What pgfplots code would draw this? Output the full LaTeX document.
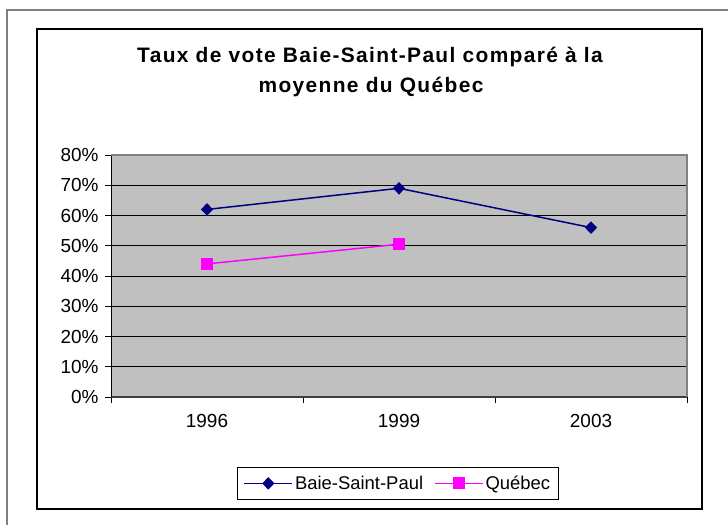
\documentclass[border=0pt]{standalone}
\usepackage{fontspec}
\setmainfont{Liberation Sans}
\newfontfamily\titlefont[LetterSpace=6.5]{Liberation Sans}
\usepackage{pgfplots}
\pgfplotsset{compat=1.18}
\definecolor{bsp}{HTML}{000080}
\definecolor{qc}{HTML}{FF00FF}
\definecolor{plotgray}{HTML}{C0C0C0}
\definecolor{bordergray}{HTML}{808080}
\begin{document}
\begin{tikzpicture}[x=1bp,y=1bp]
\useasboundingbox (0,0) rectangle (728,525);
\draw[bordergray, line width=1.5bp] (7,0) -- (7,515) -- (728,515);
\draw[black, line width=1.8bp] (37,496) rectangle (702,16);
\node[font=\titlefont\bfseries\fontsize{21}{24}\selectfont, anchor=base, inner sep=0pt] at (370,462) {Taux de vote Baie-Saint-Paul comparé à la};
\node[font=\titlefont\bfseries\fontsize{21}{24}\selectfont, anchor=base, inner sep=0pt] at (371,432) {moyenne du Québec};
\begin{axis}[
  at={(111bp,128bp)}, anchor=south west,
  width=576bp, height=242bp, scale only axis,
  xmin=-0.5, xmax=2.5, ymin=0, ymax=80,
  axis background/.style={fill=plotgray},
  axis x line*=bottom, axis y line*=left,
  x axis line style={-, draw=black!75, line width=2bp},
  y axis line style={-, draw=black, line width=1bp},
  xtick={0,1,2}, xticklabels={1996,1999,2003},
  minor xtick={-0.5,0.5,1.5,2.5},
  tick align=outside,
  major tick length=6bp, minor tick length=6bp,
  major x tick style={draw=none},
  minor x tick style={draw=black, line width=0.8bp},
  y tick style={draw=black, line width=0.8bp},
  ytick={0,10,...,80},
  yticklabel={\pgfmathprintnumber{\tick}\%},
  /pgf/number format/assume math mode=true,
  ticklabel style={font=\fontsize{19}{22}\selectfont},
  yticklabel style={xshift=-3bp},
  xticklabel style={yshift=-8bp},
  ymajorgrids, major grid style={black, line width=0.9bp},
  legend style={at={(0.498,-0.357)}, anchor=center, legend columns=2,
    draw=black, line width=0.8bp, font=\fontsize{18.5}{21}\selectfont,
    /tikz/every even column/.append style={column sep=9bp},
    inner xsep=6bp, inner ysep=6bp},
  legend image code/.code={\draw[mark repeat=2,mark phase=2,#1] plot coordinates {(0bp,0bp)(24bp,0bp)(48bp,0bp)};},
  clip=false,
]
\addplot[color=bsp, line width=1.5bp, mark=diamond*, mark size=5.2bp, mark options={solid, xscale=1.3}] coordinates {(0,62)(1,69)(2,56)};
\addlegendentry{Baie-Saint-Paul}
\addplot[color=qc, line width=1.5bp, mark=square*, mark size=5.2bp, mark options={solid}] coordinates {(0,44)(1,50.5)};
\addlegendentry{Québec}
\draw[bordergray, line width=1.8bp] (rel axis cs:0,1) -- (rel axis cs:1,1) -- (rel axis cs:1,0);
\end{axis}
\end{tikzpicture}
\end{document}
